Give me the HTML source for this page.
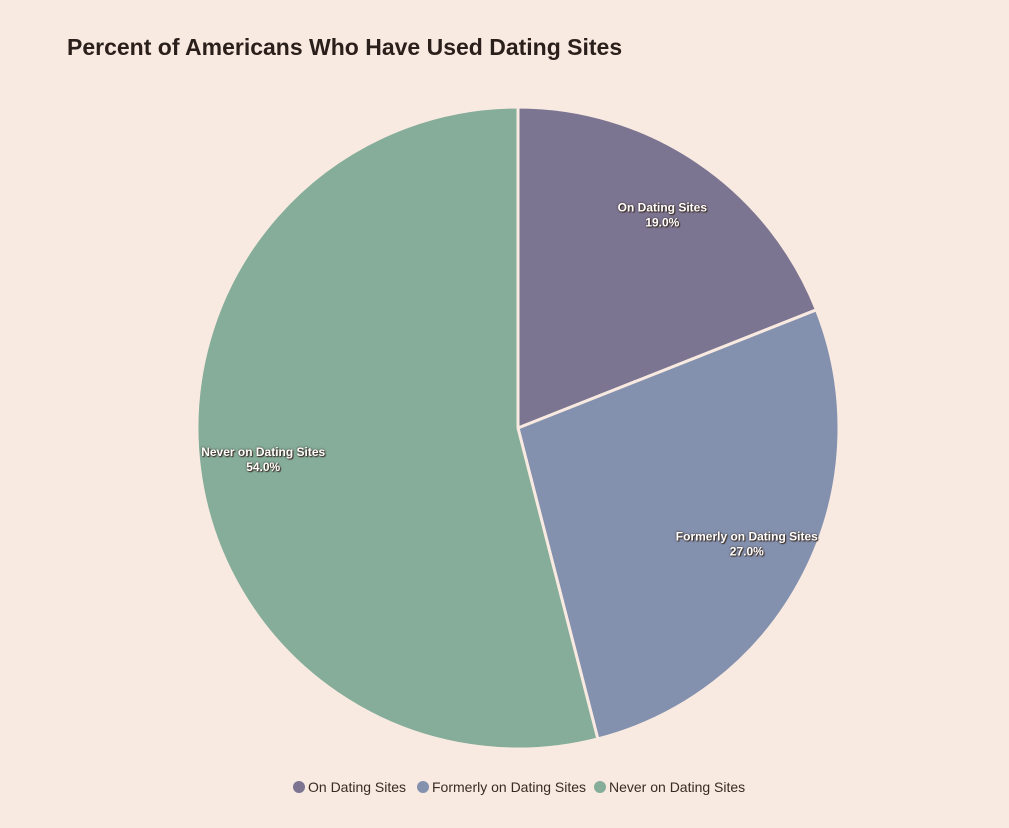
<!DOCTYPE html>
<html><head><meta charset="utf-8"><style>
body{margin:0;background:#f8eae1;width:1009px;height:823px;overflow:hidden;font-family:"Liberation Sans",sans-serif;}
</style></head><body>
<svg id="chart" width="1009" height="823" xmlns="http://www.w3.org/2000/svg">
<rect width="1009" height="823" fill="#f8eae1"/>
<text x="67" y="55" font-size="23" font-weight="bold" fill="#2a1f1a">Percent of Americans Who Have Used Dating Sites</text>
<g id="slices"></g>
<g id="labels"></g>
<g id="legend"></g>
</svg>
<script>
const categories = ["On Dating Sites", "Formerly on Dating Sites", "Never on Dating Sites"];
const values = [19.0, 27.0, 54.0];
const colors = ["#7c7591", "#8491ae", "#85ad9a"];
const NS = "http://www.w3.org/2000/svg";
const cx = 518, cy = 428, R = 321;
const total = values.reduce((a, b) => a + b, 0);
function pt(a, r) { return [cx + r * Math.sin(a), cy - r * Math.cos(a)]; }
const sg = document.getElementById('slices'), lg = document.getElementById('labels'), leg = document.getElementById('legend');
let start = 0;
values.forEach((v, i) => {
  const ang = v / total * 2 * Math.PI, end = start + ang;
  const [x1, y1] = pt(start, R), [x2, y2] = pt(end, R);
  const p = document.createElementNS(NS, 'path');
  p.setAttribute('d', `M${cx},${cy} L${x1},${y1} A${R},${R} 0 ${ang > Math.PI ? 1 : 0} 1 ${x2},${y2} Z`);
  p.setAttribute('fill', colors[i]); p.setAttribute('stroke', '#f8eae1'); p.setAttribute('stroke-width', '3');
  
  
  sg.appendChild(p);
  const [lx, ly] = pt(start + ang / 2, R * 0.8);
  [[categories[i], -4], [v.toFixed(1) + '%', 11]].forEach(([s, dy], k) => {
    const t = document.createElementNS(NS, 'text');
    t.setAttribute('x', lx); t.setAttribute('y', ly + dy);
    t.setAttribute('text-anchor', 'middle'); t.setAttribute('font-size', '12'); t.setAttribute('font-weight', 'bold');
    t.setAttribute('fill', '#fff'); t.setAttribute('style', 'text-shadow:1px 1px 1px #3a2a20,0 0 2px #3a2a20');
    t.textContent = s;
    
    
    lg.appendChild(t);
  });
  start = end;
});
const legX = [299, 423, 600];
categories.forEach((c, i) => {
  const g = document.createElementNS(NS, 'g');
  
  
  const cc = document.createElementNS(NS, 'circle');
  cc.setAttribute('cx', legX[i]); cc.setAttribute('cy', 787); cc.setAttribute('r', 6); cc.setAttribute('fill', colors[i]);
  const t = document.createElementNS(NS, 'text');
  t.setAttribute('x', legX[i] + 9); t.setAttribute('y', 792); t.setAttribute('font-size', '14'); t.setAttribute('fill', '#3a2a20');
  t.textContent = c;
  g.appendChild(cc); g.appendChild(t); leg.appendChild(g);
});
</script>
</body></html>
